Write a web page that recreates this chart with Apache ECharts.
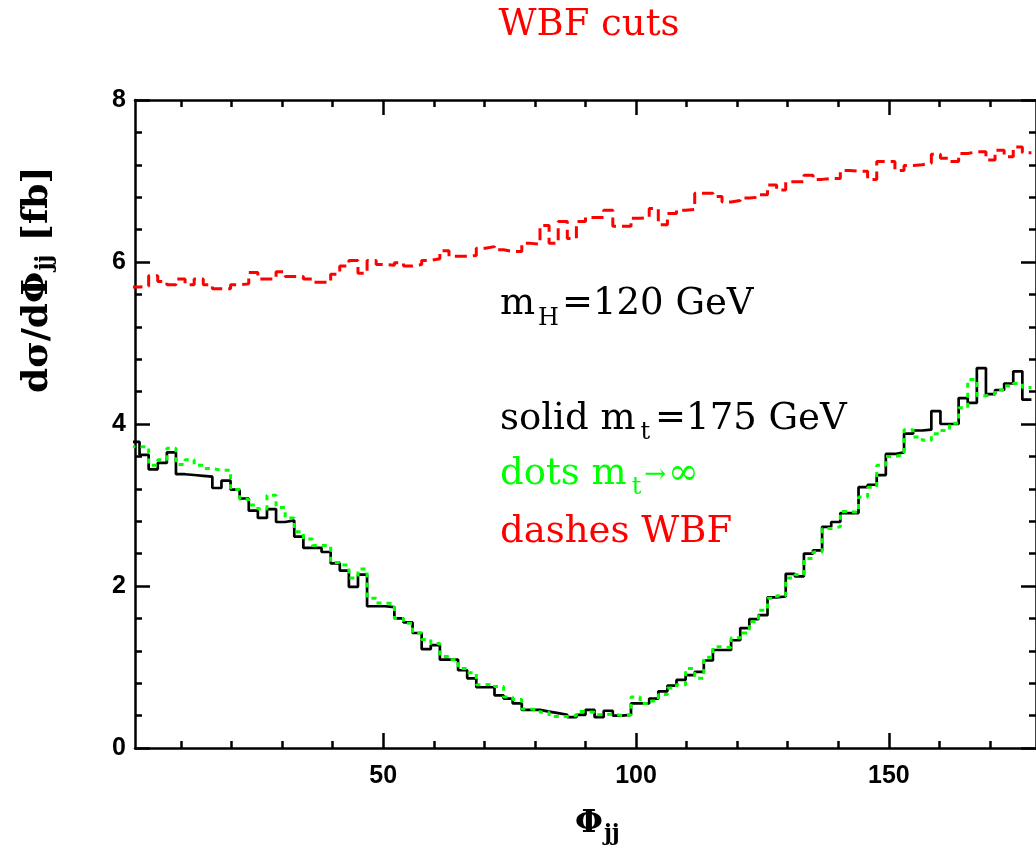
<!DOCTYPE html>
<html>
<head>
<meta charset="utf-8">
<script src="https://cdn.jsdelivr.net/npm/echarts@6/dist/echarts.min.js"></script>
<style>
  html, body { margin: 0; padding: 0; background: #fff; }
  #chart { width: 1036px; height: 847px; }
</style>
</head>
<body>
<div id="chart"></div>
<script>
// Histogram bin width (degrees); bin k covers [k*binWidth, (k+1)*binWidth]
const binWidth = 1.8;

// dashes: WBF
const wbf = [
  5.69, 5.70, 5.83, 5.76, 5.72, 5.79, 5.72, 5.79, 5.72, 5.67,
  5.67, 5.72, 5.73, 5.87, 5.79, 5.79, 5.88, 5.82, 5.82, 5.79,
  5.75, 5.75, 5.85, 5.95, 6.02, 5.86, 6.02, 5.97, 5.96, 5.99,
  5.95, 5.97, 6.02, 6.04, 6.14, 6.07, 6.07, 6.08, 6.17, 6.19,
  6.15, 6.13, 6.13, 6.23, 6.22, 6.45, 6.23, 6.50, 6.29, 6.50,
  6.55, 6.55, 6.64, 6.44, 6.44, 6.54, 6.55, 6.66, 6.46, 6.60,
  6.64, 6.65, 6.85, 6.85, 6.81, 6.74, 6.76, 6.79, 6.80, 6.83,
  6.95, 6.89, 6.99, 6.99, 7.07, 7.02, 7.03, 7.03, 7.13, 7.12,
  7.12, 7.02, 7.24, 7.24, 7.13, 7.19, 7.20, 7.22, 7.33, 7.28,
  7.24, 7.34, 7.36, 7.36, 7.26, 7.38, 7.30, 7.42, 7.35
];

// solid: m_t = 175 GeV
const mt175 = [
  3.78, 3.62, 3.44, 3.52, 3.65, 3.38, 3.37, 3.36, 3.35, 3.21,
  3.30, 3.19, 3.08, 2.93, 2.84, 2.95, 2.79, 2.81, 2.61, 2.47,
  2.47, 2.42, 2.28, 2.19, 1.99, 2.14, 1.75, 1.75, 1.74, 1.60,
  1.55, 1.42, 1.22, 1.27, 1.09, 1.09, 0.96, 0.86, 0.75, 0.75,
  0.65, 0.61, 0.55, 0.47, 0.47, 0.45, 0.43, 0.41, 0.38, 0.41,
  0.47, 0.38, 0.46, 0.40, 0.41, 0.55, 0.55, 0.61, 0.70, 0.77,
  0.84, 0.90, 0.94, 1.08, 1.21, 1.21, 1.33, 1.48, 1.59, 1.64,
  1.86, 1.87, 2.15, 2.12, 2.40, 2.44, 2.73, 2.79, 2.90, 2.90,
  3.22, 3.25, 3.37, 3.63, 3.65, 3.88, 3.92, 3.93, 4.16, 4.00,
  4.00, 4.32, 4.26, 4.69, 4.37, 4.42, 4.50, 4.65, 4.30
];

// dots: m_t -> infinity
const mtInf = [
  3.72, 3.72, 3.49, 3.56, 3.70, 3.50, 3.56, 3.49, 3.45, 3.43,
  3.43, 3.19, 3.07, 3.00, 2.95, 3.12, 2.97, 2.84, 2.67, 2.58,
  2.50, 2.50, 2.29, 2.26, 2.10, 2.21, 1.85, 1.79, 1.78, 1.60,
  1.54, 1.42, 1.34, 1.29, 1.13, 1.09, 0.98, 0.93, 0.78, 0.79,
  0.76, 0.63, 0.60, 0.48, 0.47, 0.44, 0.39, 0.39, 0.40, 0.45,
  0.44, 0.41, 0.42, 0.40, 0.41, 0.63, 0.55, 0.58, 0.66, 0.74,
  0.78, 0.98, 0.86, 1.12, 1.25, 1.24, 1.36, 1.42, 1.56, 1.70,
  1.85, 1.88, 2.10, 2.14, 2.34, 2.42, 2.71, 2.73, 2.92, 2.91,
  3.10, 3.22, 3.49, 3.60, 3.62, 3.93, 3.84, 3.80, 3.88, 3.92,
  4.01, 4.20, 4.55, 4.35, 4.37, 4.42, 4.47, 4.50, 4.45
];

// axis ticks and labels
const xMajorTicks = [50, 100, 150];
const xMinorTicks = [10, 20, 30, 40, 60, 70, 80, 90, 110, 120, 130, 140, 160, 170];
const xRange = [0.9, 179.1];
const yRange = [0, 8];
const yStep = 2;

function toSteps(vals) {
  const pts = vals.map((v, i) => [+(i * binWidth).toFixed(2), v]);
  pts.push([+(vals.length * binWidth).toFixed(2), vals[vals.length - 1]]);
  return pts;
}

const AX = '#000';
const AXW = 2.5;
const serif = "'DejaVu Serif', serif";
const labelFont = "'Liberation Sans', Arial, sans-serif";

function xAxisDef(position, ticks, len, withLine, withLabel) {
  return {
    type: 'value', position: position, min: xRange[0], max: xRange[1],
    axisLine: { show: withLine, lineStyle: { color: AX, width: AXW } },
    axisTick: { show: true, inside: true, length: len, customValues: ticks,
                lineStyle: { color: AX, width: AXW } },
    axisLabel: withLabel ? {
      show: true, customValues: ticks, margin: 16, color: '#000',
      fontFamily: labelFont, fontWeight: 'bold', fontSize: 25
    } : { show: false },
    splitLine: { show: false }
  };
}
function yAxisDef(position, withLabel) {
  return {
    type: 'value', position: position, min: yRange[0], max: yRange[1], interval: yStep,
    axisLine: { show: true, onZero: false, lineStyle: { color: AX, width: AXW } },
    axisTick: { show: true, inside: true, length: 15, lineStyle: { color: AX, width: AXW } },
    minorTick: { show: true, splitNumber: 5, length: 7, lineStyle: { color: AX, width: AXW } },
    axisLabel: withLabel ? {
      show: true, margin: 9, color: '#000',
      fontFamily: labelFont, fontWeight: 'bold', fontSize: 25
    } : { show: false },
    splitLine: { show: false }, minorSplitLine: { show: false }
  };
}

// ---- text runs with real subscripts (pieces placed one after another) ----
const mctx = document.createElement('canvas').getContext('2d');
function fontStr(p) { return (p.bold ? 'bold ' : '') + p.size + 'px ' + serif; }
function measure(p) { mctx.font = fontStr(p); return mctx.measureText(p.t).width; }

// horizontal run: x0 = left, baseline = y of main baseline
function hRun(x0, baseline, color, pieces) {
  const out = [];
  let cx = x0;
  pieces.forEach(p => {
    cx += (p.gapBefore || 0);
    out.push({
      type: 'text', silent: true, x: cx, y: baseline + (p.dy || 0) - 0.35 * p.size,
      style: { text: p.t, font: fontStr(p), fill: color, align: 'left', verticalAlign: 'middle' }
    });
    cx += measure(p) + (p.gapAfter || 0);
  });
  return out;
}
// vertical run (reads bottom to top): xb = screen x of baseline, y0 = start (bottom)
function vRun(xb, y0, color, pieces) {
  const out = [];
  let cy = y0;
  pieces.forEach(p => {
    cy -= (p.gapBefore || 0);
    out.push({
      type: 'text', silent: true, rotation: Math.PI / 2,
      x: xb + (p.dy || 0) - 0.35 * p.size, y: cy,
      style: { text: p.t, font: fontStr(p), fill: color, align: 'left', verticalAlign: 'middle' }
    });
    cy -= measure(p) + (p.gapAfter || 0);
  });
  return out;
}

const M = 37, S = 24;
const graphics = [].concat(
  // title
  [{ type: 'text', silent: true, x: 589, y: 38 - 0.35 * 37,
     style: { text: 'WBF cuts', align: 'center', verticalAlign: 'middle',
              fill: '#ff0000', font: '37px ' + serif } }],
  hRun(500, 317, '#000000', [
    { t: 'm', size: M }, { t: 'H', size: S, dy: 10, gapBefore: 3, gapAfter: 3 }, { t: '=120 GeV', size: M }
  ]),
  hRun(500, 432, '#000000', [
    { t: 'solid m', size: M }, { t: 't', size: S, dy: 9, gapBefore: 5, gapAfter: 5 }, { t: '=175 GeV', size: M }
  ]),
  hRun(500, 487, '#00ff00', [
    { t: 'dots m', size: M }, { t: 't', size: S, dy: 9, gapBefore: 5, gapAfter: 3 },
    { t: '→', size: 26, dy: -3 }, { t: '∞', size: M, gapBefore: 2 }
  ]),
  hRun(500, 545, '#ff0000', [ { t: 'dashes WBF', size: M } ]),
  // y-axis title
  vRun(50, 393, '#000000', [
    { t: 'dσ/dΦ', size: 36, bold: true }, { t: 'jj', size: 22, bold: true, dy: 3, gapBefore: 1, gapAfter: 1 },
    { t: ' [fb]', size: 36, bold: true }
  ]),
  // x-axis title
  hRun(575, 835, '#000000', [
    { t: 'Φ', size: 32, bold: true }, { t: 'jj', size: 22, bold: true, dy: 7, gapBefore: 1 }
  ])
);

const chart = echarts.init(document.getElementById('chart'), null, { renderer: 'canvas' });
chart.setOption({
  animation: false,
  backgroundColor: '#fff',
  grid: { left: 135, top: 100, width: 909, height: 648, containLabel: false },
  xAxis: [
    xAxisDef('bottom', xMajorTicks, 15, true, true),
    xAxisDef('bottom', xMinorTicks, 7, false, false),
    xAxisDef('top', xMajorTicks, 15, true, false),
    xAxisDef('top', xMinorTicks, 7, false, false)
  ],
  yAxis: [ yAxisDef('left', true), yAxisDef('right', false) ],
  series: [
    { type: 'line', name: 'WBF', step: 'end', showSymbol: false, data: toSteps(wbf),
      lineStyle: { color: '#ff0000', width: 3, type: [12, 6] } },
    { type: 'line', name: 'mt175', step: 'end', showSymbol: false, data: toSteps(mt175),
      lineStyle: { color: '#000000', width: 2.7, type: 'solid' } },
    { type: 'line', name: 'mtInf', step: 'end', showSymbol: false, data: toSteps(mtInf),
      lineStyle: { color: '#00ff00', width: 3, type: [5, 5] } }
  ],
  graphic: graphics
});
</script>
</body>
</html>
